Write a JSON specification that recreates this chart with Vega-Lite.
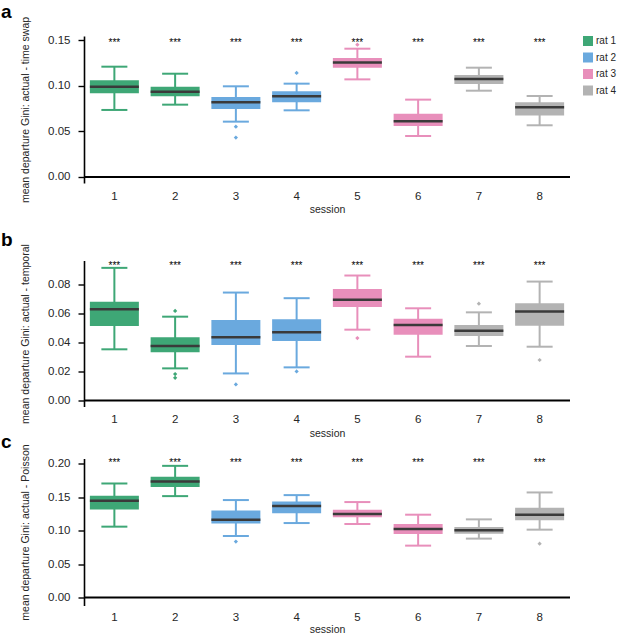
{
  "$schema": "https://vega.github.io/schema/vega-lite/v6.json",
  "background": "white",
  "padding": {"left": 1, "top": 2, "right": 0, "bottom": 0},
  "datasets": {
    "boxes": [
      {"panel": "a", "session": 1, "rat": "rat 1", "lower": 0.0734, "q1": 0.0916, "median": 0.0989, "q3": 0.1058, "upper": 0.1208},
      {"panel": "a", "session": 2, "rat": "rat 1", "lower": 0.0792, "q1": 0.0883, "median": 0.0934, "q3": 0.0989, "upper": 0.1131},
      {"panel": "a", "session": 3, "rat": "rat 2", "lower": 0.0606, "q1": 0.0745, "median": 0.0818, "q3": 0.0876, "upper": 0.0993},
      {"panel": "a", "session": 4, "rat": "rat 2", "lower": 0.0730, "q1": 0.0818, "median": 0.0883, "q3": 0.0938, "upper": 0.1022},
      {"panel": "a", "session": 5, "rat": "rat 3", "lower": 0.1069, "q1": 0.1197, "median": 0.1255, "q3": 0.1303, "upper": 0.1405},
      {"panel": "a", "session": 6, "rat": "rat 3", "lower": 0.0449, "q1": 0.0558, "median": 0.0609, "q3": 0.0693, "upper": 0.0847},
      {"panel": "a", "session": 7, "rat": "rat 4", "lower": 0.0945, "q1": 0.1018, "median": 0.1073, "q3": 0.1117, "upper": 0.1197},
      {"panel": "a", "session": 8, "rat": "rat 4", "lower": 0.0566, "q1": 0.0672, "median": 0.0763, "q3": 0.0818, "upper": 0.0887},
      {"panel": "b", "session": 1, "rat": "rat 1", "lower": 0.0354, "q1": 0.0516, "median": 0.0631, "q3": 0.0684, "upper": 0.0918},
      {"panel": "b", "session": 2, "rat": "rat 1", "lower": 0.0222, "q1": 0.0333, "median": 0.0377, "q3": 0.0437, "upper": 0.0580},
      {"panel": "b", "session": 3, "rat": "rat 2", "lower": 0.0187, "q1": 0.0384, "median": 0.0437, "q3": 0.0557, "upper": 0.0747},
      {"panel": "b", "session": 4, "rat": "rat 2", "lower": 0.0229, "q1": 0.0412, "median": 0.0472, "q3": 0.0562, "upper": 0.0708},
      {"panel": "b", "session": 5, "rat": "rat 3", "lower": 0.0490, "q1": 0.0647, "median": 0.0698, "q3": 0.0772, "upper": 0.0865},
      {"panel": "b", "session": 6, "rat": "rat 3", "lower": 0.0303, "q1": 0.0455, "median": 0.0523, "q3": 0.0566, "upper": 0.0638},
      {"panel": "b", "session": 7, "rat": "rat 4", "lower": 0.0377, "q1": 0.0446, "median": 0.0483, "q3": 0.0523, "upper": 0.0610},
      {"panel": "b", "session": 8, "rat": "rat 4", "lower": 0.0372, "q1": 0.0518, "median": 0.0615, "q3": 0.0673, "upper": 0.0823},
      {"panel": "c", "session": 1, "rat": "rat 1", "lower": 0.1060, "q1": 0.1318, "median": 0.1448, "q3": 0.1522, "upper": 0.1706},
      {"panel": "c", "session": 2, "rat": "rat 1", "lower": 0.1517, "q1": 0.1652, "median": 0.1736, "q3": 0.1806, "upper": 0.1970},
      {"panel": "c", "session": 3, "rat": "rat 2", "lower": 0.0920, "q1": 0.1109, "median": 0.1164, "q3": 0.1303, "upper": 0.1458},
      {"panel": "c", "session": 4, "rat": "rat 2", "lower": 0.1114, "q1": 0.1259, "median": 0.1368, "q3": 0.1438, "upper": 0.1532},
      {"panel": "c", "session": 5, "rat": "rat 3", "lower": 0.1100, "q1": 0.1199, "median": 0.1249, "q3": 0.1313, "upper": 0.1428},
      {"panel": "c", "session": 6, "rat": "rat 3", "lower": 0.0776, "q1": 0.0950, "median": 0.1025, "q3": 0.1100, "upper": 0.1239},
      {"panel": "c", "session": 7, "rat": "rat 4", "lower": 0.0881, "q1": 0.0955, "median": 0.1005, "q3": 0.1055, "upper": 0.1169},
      {"panel": "c", "session": 8, "rat": "rat 4", "lower": 0.1015, "q1": 0.1154, "median": 0.1239, "q3": 0.1343, "upper": 0.1572}
    ],
    "outliers": [
      {"panel": "a", "session": 3, "rat": "rat 2", "value": 0.0551},
      {"panel": "a", "session": 3, "rat": "rat 2", "value": 0.0431},
      {"panel": "a", "session": 4, "rat": "rat 2", "value": 0.1139},
      {"panel": "a", "session": 5, "rat": "rat 3", "value": 0.1449},
      {"panel": "b", "session": 2, "rat": "rat 1", "value": 0.0620},
      {"panel": "b", "session": 2, "rat": "rat 1", "value": 0.0183},
      {"panel": "b", "session": 2, "rat": "rat 1", "value": 0.0157},
      {"panel": "b", "session": 3, "rat": "rat 2", "value": 0.0111},
      {"panel": "b", "session": 4, "rat": "rat 2", "value": 0.0201},
      {"panel": "b", "session": 5, "rat": "rat 3", "value": 0.0432},
      {"panel": "b", "session": 7, "rat": "rat 4", "value": 0.0670},
      {"panel": "b", "session": 8, "rat": "rat 4", "value": 0.0280},
      {"panel": "c", "session": 3, "rat": "rat 2", "value": 0.0836},
      {"panel": "c", "session": 8, "rat": "rat 4", "value": 0.0806}
    ],
    "zero": [{"level": 0}]
  },
  "resolve": {"scale": {"y": "independent"}},
  "spacing": 15.5,
  "vconcat": [
    {
      "title": {"text": "a", "offset": -5.5},
      "width": 486,
      "height": 147,
      "layer": [
        {
          "data": {"name": "boxes"},
          "transform": [{"filter": "datum.panel == 'a'"}],
          "mark": {"type": "rule", "strokeWidth": 2},
          "encoding": {
            "x": {"field": "session", "type": "ordinal", "title": "session"},
            "y": {"field": "lower", "type": "quantitative", "title": "mean departure Gini: actual - time swap",
                  "scale": {"domain": [-0.0066, 0.1544], "nice": false, "zero": false},
                  "axis": {"values": [0, 0.05, 0.1, 0.15], "format": ".2f"}},
            "y2": {"field": "upper"},
            "color": {"field": "rat", "type": "nominal"}
          }
        },
        {
          "data": {"name": "boxes"},
          "transform": [{"filter": "datum.panel == 'a'"}],
          "mark": {"type": "tick", "size": 26, "thickness": 2, "opacity": 1},
          "encoding": {
            "x": {"field": "session", "type": "ordinal", "title": "session"},
            "y": {"field": "lower", "type": "quantitative", "title": "mean departure Gini: actual - time swap",
                  "scale": {"domain": [-0.0066, 0.1544], "nice": false, "zero": false},
                  "axis": {"values": [0, 0.05, 0.1, 0.15], "format": ".2f"}},
            "color": {"field": "rat", "type": "nominal"}
          }
        },
        {
          "data": {"name": "boxes"},
          "transform": [{"filter": "datum.panel == 'a'"}],
          "mark": {"type": "tick", "size": 26, "thickness": 2, "opacity": 1},
          "encoding": {
            "x": {"field": "session", "type": "ordinal", "title": "session"},
            "y": {"field": "upper", "type": "quantitative", "title": "mean departure Gini: actual - time swap",
                  "scale": {"domain": [-0.0066, 0.1544], "nice": false, "zero": false},
                  "axis": {"values": [0, 0.05, 0.1, 0.15], "format": ".2f"}},
            "color": {"field": "rat", "type": "nominal"}
          }
        },
        {
          "data": {"name": "boxes"},
          "transform": [{"filter": "datum.panel == 'a'"}],
          "mark": {"type": "bar", "size": 49},
          "encoding": {
            "x": {"field": "session", "type": "ordinal", "title": "session"},
            "y": {"field": "q1", "type": "quantitative", "title": "mean departure Gini: actual - time swap",
                  "scale": {"domain": [-0.0066, 0.1544], "nice": false, "zero": false},
                  "axis": {"values": [0, 0.05, 0.1, 0.15], "format": ".2f"}},
            "y2": {"field": "q3"},
            "color": {"field": "rat", "type": "nominal"}
          }
        },
        {
          "data": {"name": "boxes"},
          "transform": [{"filter": "datum.panel == 'a'"}],
          "mark": {"type": "tick", "size": 49, "thickness": 2.5, "color": "#3a3a3a", "opacity": 1},
          "encoding": {
            "x": {"field": "session", "type": "ordinal", "title": "session"},
            "y": {"field": "median", "type": "quantitative", "title": "mean departure Gini: actual - time swap",
                  "scale": {"domain": [-0.0066, 0.1544], "nice": false, "zero": false},
                  "axis": {"values": [0, 0.05, 0.1, 0.15], "format": ".2f"}}
          }
        },
        {
          "data": {"name": "outliers"},
          "transform": [{"filter": "datum.panel == 'a'"}],
          "mark": {"type": "point", "shape": "diamond", "filled": true, "size": 18, "opacity": 1},
          "encoding": {
            "x": {"field": "session", "type": "ordinal", "title": "session"},
            "y": {"field": "value", "type": "quantitative", "title": "mean departure Gini: actual - time swap",
                  "scale": {"domain": [-0.0066, 0.1544], "nice": false, "zero": false},
                  "axis": {"values": [0, 0.05, 0.1, 0.15], "format": ".2f"}},
            "color": {"field": "rat", "type": "nominal"}
          }
        },
        {
          "data": {"name": "boxes"},
          "transform": [{"filter": "datum.panel == 'a'"}],
          "mark": {"type": "text", "text": "***", "fontSize": 10, "baseline": "middle", "dy": 3, "color": "black"},
          "encoding": {
            "x": {"field": "session", "type": "ordinal", "title": "session"},
            "y": {"datum": 0.1504, "type": "quantitative", "title": "mean departure Gini: actual - time swap",
                  "scale": {"domain": [-0.0066, 0.1544], "nice": false, "zero": false},
                  "axis": {"values": [0, 0.05, 0.1, 0.15], "format": ".2f"}}
          }
        },
        {
          "data": {"name": "zero"},
          "mark": {"type": "rule", "strokeWidth": 2, "color": "black"},
          "encoding": {
            "y": {"field": "level", "type": "quantitative", "title": "mean departure Gini: actual - time swap",
                  "scale": {"domain": [-0.0066, 0.1544], "nice": false, "zero": false},
                  "axis": {"values": [0, 0.05, 0.1, 0.15], "format": ".2f"}}
          }
        }
      ]
    },
    {
      "resolve": {"scale": {"y": "independent"}},
      "spacing": -6,
      "vconcat": [
        {
          "title": {"text": "b", "offset": -6},
          "width": 486,
          "height": 146,
          "layer": [
            {
              "data": {"name": "boxes"},
              "transform": [{"filter": "datum.panel == 'b'"}],
              "mark": {"type": "rule", "strokeWidth": 2},
              "encoding": {
                "x": {"field": "session", "type": "ordinal", "title": "session"},
                "y": {"field": "lower", "type": "quantitative", "title": "mean departure Gini: actual - temporal",
                      "scale": {"domain": [-0.0042, 0.0969], "nice": false, "zero": false},
                      "axis": {"values": [0, 0.02, 0.04, 0.06, 0.08], "format": ".2f"}},
                "y2": {"field": "upper"},
                "color": {"field": "rat", "type": "nominal"}
              }
            },
            {
              "data": {"name": "boxes"},
              "transform": [{"filter": "datum.panel == 'b'"}],
              "mark": {"type": "tick", "size": 26, "thickness": 2, "opacity": 1},
              "encoding": {
                "x": {"field": "session", "type": "ordinal", "title": "session"},
                "y": {"field": "lower", "type": "quantitative", "title": "mean departure Gini: actual - temporal",
                      "scale": {"domain": [-0.0042, 0.0969], "nice": false, "zero": false},
                      "axis": {"values": [0, 0.02, 0.04, 0.06, 0.08], "format": ".2f"}},
                "color": {"field": "rat", "type": "nominal"}
              }
            },
            {
              "data": {"name": "boxes"},
              "transform": [{"filter": "datum.panel == 'b'"}],
              "mark": {"type": "tick", "size": 26, "thickness": 2, "opacity": 1},
              "encoding": {
                "x": {"field": "session", "type": "ordinal", "title": "session"},
                "y": {"field": "upper", "type": "quantitative", "title": "mean departure Gini: actual - temporal",
                      "scale": {"domain": [-0.0042, 0.0969], "nice": false, "zero": false},
                      "axis": {"values": [0, 0.02, 0.04, 0.06, 0.08], "format": ".2f"}},
                "color": {"field": "rat", "type": "nominal"}
              }
            },
            {
              "data": {"name": "boxes"},
              "transform": [{"filter": "datum.panel == 'b'"}],
              "mark": {"type": "bar", "size": 49},
              "encoding": {
                "x": {"field": "session", "type": "ordinal", "title": "session"},
                "y": {"field": "q1", "type": "quantitative", "title": "mean departure Gini: actual - temporal",
                      "scale": {"domain": [-0.0042, 0.0969], "nice": false, "zero": false},
                      "axis": {"values": [0, 0.02, 0.04, 0.06, 0.08], "format": ".2f"}},
                "y2": {"field": "q3"},
                "color": {"field": "rat", "type": "nominal"}
              }
            },
            {
              "data": {"name": "boxes"},
              "transform": [{"filter": "datum.panel == 'b'"}],
              "mark": {"type": "tick", "size": 49, "thickness": 2.5, "color": "#3a3a3a", "opacity": 1},
              "encoding": {
                "x": {"field": "session", "type": "ordinal", "title": "session"},
                "y": {"field": "median", "type": "quantitative", "title": "mean departure Gini: actual - temporal",
                      "scale": {"domain": [-0.0042, 0.0969], "nice": false, "zero": false},
                      "axis": {"values": [0, 0.02, 0.04, 0.06, 0.08], "format": ".2f"}}
              }
            },
            {
              "data": {"name": "outliers"},
              "transform": [{"filter": "datum.panel == 'b'"}],
              "mark": {"type": "point", "shape": "diamond", "filled": true, "size": 18, "opacity": 1},
              "encoding": {
                "x": {"field": "session", "type": "ordinal", "title": "session"},
                "y": {"field": "value", "type": "quantitative", "title": "mean departure Gini: actual - temporal",
                      "scale": {"domain": [-0.0042, 0.0969], "nice": false, "zero": false},
                      "axis": {"values": [0, 0.02, 0.04, 0.06, 0.08], "format": ".2f"}},
                "color": {"field": "rat", "type": "nominal"}
              }
            },
            {
              "data": {"name": "boxes"},
              "transform": [{"filter": "datum.panel == 'b'"}],
              "mark": {"type": "text", "text": "***", "fontSize": 10, "baseline": "middle", "dy": 3, "color": "black"},
              "encoding": {
                "x": {"field": "session", "type": "ordinal", "title": "session"},
                "y": {"datum": 0.0953, "type": "quantitative", "title": "mean departure Gini: actual - temporal",
                      "scale": {"domain": [-0.0042, 0.0969], "nice": false, "zero": false},
                      "axis": {"values": [0, 0.02, 0.04, 0.06, 0.08], "format": ".2f"}}
              }
            },
            {
              "data": {"name": "zero"},
              "mark": {"type": "rule", "strokeWidth": 2, "color": "black"},
              "encoding": {
                "y": {"field": "level", "type": "quantitative", "title": "mean departure Gini: actual - temporal",
                      "scale": {"domain": [-0.0042, 0.0969], "nice": false, "zero": false},
                      "axis": {"values": [0, 0.02, 0.04, 0.06, 0.08], "format": ".2f"}}
              }
            }
          ]
        },
        {
          "title": {"text": "c", "offset": -8.2},
          "width": 486,
          "height": 147,
          "layer": [
            {
              "data": {"name": "boxes"},
              "transform": [{"filter": "datum.panel == 'c'"}],
              "mark": {"type": "rule", "strokeWidth": 2},
              "encoding": {
                "x": {"field": "session", "type": "ordinal", "title": "session", "axis": {"labelPadding": 6, "titlePadding": 1}},
                "y": {"field": "lower", "type": "quantitative", "title": "mean departure Gini: actual - Poisson",
                      "scale": {"domain": [-0.012, 0.208], "nice": false, "zero": false},
                      "axis": {"values": [0, 0.05, 0.1, 0.15, 0.2], "format": ".2f"}},
                "y2": {"field": "upper"},
                "color": {"field": "rat", "type": "nominal"}
              }
            },
            {
              "data": {"name": "boxes"},
              "transform": [{"filter": "datum.panel == 'c'"}],
              "mark": {"type": "tick", "size": 26, "thickness": 2, "opacity": 1},
              "encoding": {
                "x": {"field": "session", "type": "ordinal", "title": "session", "axis": {"labelPadding": 6, "titlePadding": 1}},
                "y": {"field": "lower", "type": "quantitative", "title": "mean departure Gini: actual - Poisson",
                      "scale": {"domain": [-0.012, 0.208], "nice": false, "zero": false},
                      "axis": {"values": [0, 0.05, 0.1, 0.15, 0.2], "format": ".2f"}},
                "color": {"field": "rat", "type": "nominal"}
              }
            },
            {
              "data": {"name": "boxes"},
              "transform": [{"filter": "datum.panel == 'c'"}],
              "mark": {"type": "tick", "size": 26, "thickness": 2, "opacity": 1},
              "encoding": {
                "x": {"field": "session", "type": "ordinal", "title": "session", "axis": {"labelPadding": 6, "titlePadding": 1}},
                "y": {"field": "upper", "type": "quantitative", "title": "mean departure Gini: actual - Poisson",
                      "scale": {"domain": [-0.012, 0.208], "nice": false, "zero": false},
                      "axis": {"values": [0, 0.05, 0.1, 0.15, 0.2], "format": ".2f"}},
                "color": {"field": "rat", "type": "nominal"}
              }
            },
            {
              "data": {"name": "boxes"},
              "transform": [{"filter": "datum.panel == 'c'"}],
              "mark": {"type": "bar", "size": 49},
              "encoding": {
                "x": {"field": "session", "type": "ordinal", "title": "session", "axis": {"labelPadding": 6, "titlePadding": 1}},
                "y": {"field": "q1", "type": "quantitative", "title": "mean departure Gini: actual - Poisson",
                      "scale": {"domain": [-0.012, 0.208], "nice": false, "zero": false},
                      "axis": {"values": [0, 0.05, 0.1, 0.15, 0.2], "format": ".2f"}},
                "y2": {"field": "q3"},
                "color": {"field": "rat", "type": "nominal"}
              }
            },
            {
              "data": {"name": "boxes"},
              "transform": [{"filter": "datum.panel == 'c'"}],
              "mark": {"type": "tick", "size": 49, "thickness": 2.5, "color": "#3a3a3a", "opacity": 1},
              "encoding": {
                "x": {"field": "session", "type": "ordinal", "title": "session", "axis": {"labelPadding": 6, "titlePadding": 1}},
                "y": {"field": "median", "type": "quantitative", "title": "mean departure Gini: actual - Poisson",
                      "scale": {"domain": [-0.012, 0.208], "nice": false, "zero": false},
                      "axis": {"values": [0, 0.05, 0.1, 0.15, 0.2], "format": ".2f"}}
              }
            },
            {
              "data": {"name": "outliers"},
              "transform": [{"filter": "datum.panel == 'c'"}],
              "mark": {"type": "point", "shape": "diamond", "filled": true, "size": 18, "opacity": 1},
              "encoding": {
                "x": {"field": "session", "type": "ordinal", "title": "session", "axis": {"labelPadding": 6, "titlePadding": 1}},
                "y": {"field": "value", "type": "quantitative", "title": "mean departure Gini: actual - Poisson",
                      "scale": {"domain": [-0.012, 0.208], "nice": false, "zero": false},
                      "axis": {"values": [0, 0.05, 0.1, 0.15, 0.2], "format": ".2f"}},
                "color": {"field": "rat", "type": "nominal"}
              }
            },
            {
              "data": {"name": "boxes"},
              "transform": [{"filter": "datum.panel == 'c'"}],
              "mark": {"type": "text", "text": "***", "fontSize": 10, "baseline": "middle", "dy": 3, "color": "black"},
              "encoding": {
                "x": {"field": "session", "type": "ordinal", "title": "session", "axis": {"labelPadding": 6, "titlePadding": 1}},
                "y": {"datum": 0.2055, "type": "quantitative", "title": "mean departure Gini: actual - Poisson",
                      "scale": {"domain": [-0.012, 0.208], "nice": false, "zero": false},
                      "axis": {"values": [0, 0.05, 0.1, 0.15, 0.2], "format": ".2f"}}
              }
            },
            {
              "data": {"name": "zero"},
              "mark": {"type": "rule", "strokeWidth": 2, "color": "black"},
              "encoding": {
                "y": {"field": "level", "type": "quantitative", "title": "mean departure Gini: actual - Poisson",
                      "scale": {"domain": [-0.012, 0.208], "nice": false, "zero": false},
                      "axis": {"values": [0, 0.05, 0.1, 0.15, 0.2], "format": ".2f"}}
              }
            }
          ]
        }
      ]
    }
  ],
  "config": {
    "font": "Liberation Sans",
    "view": {"stroke": null},
    "title": {"fontSize": 19, "fontWeight": "bold", "anchor": "start", "frame": "group", "dx": -83, "color": "black"},
    "scale": {"bandPaddingInner": 0, "bandPaddingOuter": 0},
    "range": {"category": ["#3ea776", "#6aa9de", "#e88fbb", "#b3b3b3"]},
    "axis": {"grid": false, "labelFontSize": 11.5, "titleFontSize": 10.5, "titleFontWeight": "normal", "labelColor": "#262626", "titleColor": "#262626"},
    "axisY": {"domainColor": "black", "domainWidth": 1.6, "tickColor": "black", "tickWidth": 1.4, "tickSize": 6, "labelPadding": 8, "titlePadding": 17, "labelOverlap": false},
    "axisX": {"domain": false, "ticks": false, "labelAngle": 0, "labelPadding": 7, "titlePadding": 3},
    "legend": {"orient": "right", "title": null, "symbolType": "square", "symbolSize": 100, "symbolStrokeWidth": 0, "symbolOpacity": 1, "labelFontSize": 10, "labelColor": "#262626", "rowPadding": 6.5, "labelOffset": 3, "offset": 12, "padding": 0}
  }
}
